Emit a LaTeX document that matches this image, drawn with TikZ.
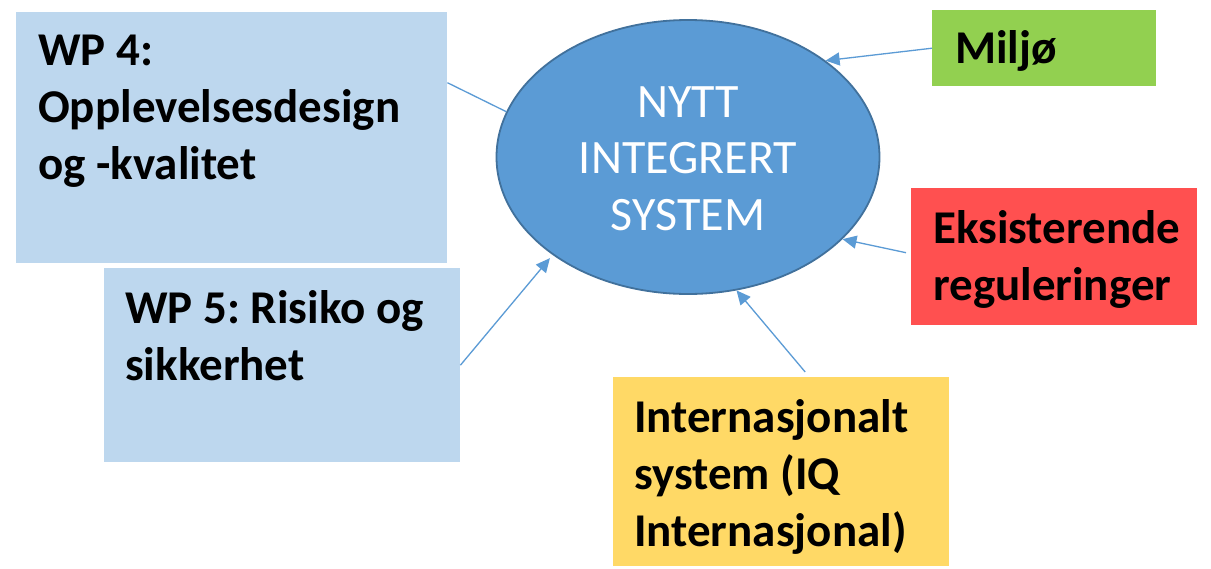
\documentclass[tikz,border=0pt]{standalone}
\usepackage{fontspec}
\setmainfont{Carlito}
\usetikzlibrary{arrows.meta,shapes.geometric}
\frenchspacing
\definecolor{wpblue}{HTML}{BDD7EE}
\definecolor{envgreen}{HTML}{92D050}
\definecolor{regred}{HTML}{FF5050}
\definecolor{intyellow}{HTML}{FFD966}
\definecolor{sysfill}{HTML}{5B9BD5}
\definecolor{sysline}{HTML}{41719C}
\definecolor{linkblue}{HTML}{5B9BD5}
\tikzset{
  panel/.style={rectangle, draw=none, inner sep=0pt, anchor=north west},
  label text/.style={anchor=base west, inner sep=0pt, align=left,
    font=\fontsize{47}{57}\selectfont\bfseries, text=black},
  link/.style={draw=linkblue, line width=1.3pt},
  feed/.style={link, -{Triangle[length=14pt,width=13pt]}},
}
\begin{document}
\begin{tikzpicture}[x=1pt, y=-1pt]
  \useasboundingbox[fill=white] (0,0) rectangle (1211,568);

  % coloured panels
  \node[panel, fill=wpblue, minimum width=431pt, minimum height=251pt] (wp4) at (16,12) {};
  \node[panel, fill=wpblue, minimum width=356pt, minimum height=194pt] (wp5) at (104,268) {};
  \node[panel, fill=envgreen, minimum width=224pt, minimum height=76pt] (env) at (932,10) {};
  \node[panel, fill=regred, minimum width=286pt, minimum height=137pt] (reg) at (911,188) {};
  \node[panel, fill=intyellow, minimum width=336pt, minimum height=189pt] (intl) at (613,377) {};

  % panel texts (anchored at the baseline of the last line)
  \node[label text] (wp4txt) at (38,179) {WP 4:\\Opplevelsesdesign\\og -kvalitet};
  \node[label text] (wp5txt) at (125,380) {WP 5: Risiko og\\sikkerhet};
  \node[label text] (envtxt) at (955,63) {Miljø};
  \node[label text] (regtxt) at (933,300) {Eksisterende\\reguleringer};
  \node[label text] (intltxt) at (634,546) {Internasjonalt\\system (IQ\\Internasjonal)};

  % central system
  \node[ellipse, fill=sysfill, draw=sysline, line width=1.8pt,
        minimum width=383pt, minimum height=274pt, inner sep=0pt] (sys) at (688,157) {};
  \node[anchor=base, inner sep=0pt, align=center, text=white,
        font=\fontsize{48}{56.5}\selectfont] (systxt) at (688,230)
        {NYTT\\INTEGRERT\\SYSTEM};

  % connectors
  \draw[link] ([yshift=55pt]wp4.east) -- (sys.166);
  \draw[feed] (env.west) -- (sys.35);
  \draw[feed] ([xshift=-5pt,yshift=4pt]reg.west) -- (sys.-28);
  \draw[feed] ([xshift=24pt,yshift=5pt]intl.north) -- (sys.-70);
  \draw[feed] (wp5.east) -- ([xshift=-3pt,yshift=-3pt]sys.216);
\end{tikzpicture}
\end{document}
